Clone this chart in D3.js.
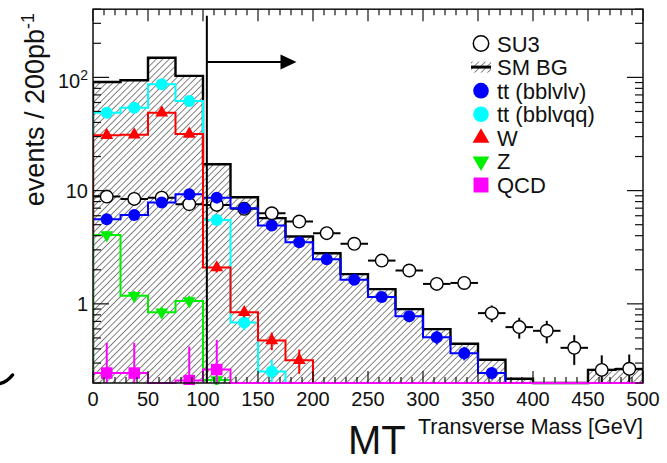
<!DOCTYPE html>
<html>
<head>
<meta charset="utf-8">
<script src="https://cdn.jsdelivr.net/npm/d3@7/dist/d3.min.js"></script>
<style>
  html, body { margin: 0; padding: 0; background: #fff; }
  svg { display: block; font-family: "Liberation Sans", Arial, Helvetica, sans-serif; }
</style>
</head>
<body>
<svg id="chart" width="667" height="463"></svg>
<script>
// MT histogram bins: lower edges in GeV, 25 GeV wide
const binLow = [0, 25, 50, 75, 100, 125, 150, 175, 200, 225, 250, 275, 300, 325, 350, 375, 400, 425, 450, 475];
const binWidth = 25;

// Total Standard Model background (hatched)
const smBG = [91, 94.3, 149, 103, 17.1, 8.74, 5.71, 3.93, 2.80, 1.83, 1.35, 0.898, 0.598, 0.444, 0.321, 0.218, 0, 0, 0.261, 0.265];

// SUSY benchmark SU3 (open circles)
const su3    = [8.85, 8.45, 8.67, 7.59, 7.48, 6.9, 6.31, 5.33, 4.21, 3.39, 2.41, 1.97, 1.50, 1.53, 0.828, 0.623, 0.578, 0.409, 0.261, 0.267];
const su3Err = [0.40, 0.40, 0.40, 0.38, 0.38, 0.36, 0.34, 0.30, 0.27, 0.24, 0.20, 0.18, 0.15, 0.15, 0.14, 0.13, 0.13, 0.12, 0.09, 0.09];

// Background components
const ttDilep    = [5.59, 6.1, 7.84, 9.3, 8.67, 7.0, 4.91, 3.5, 2.48, 1.63, 1.15, 0.778, 0.508, 0.367, 0.245, 0, 0, 0, 0, 0];
const ttDilepErr = [0.3, 0.3, 0.35, 0.4, 0.4, 0.35, 0.3, 0.25, 0.2, 0.15, 0.12, 0.09, 0.07, 0.05, 0.03, 0, 0, 0, 0, 0];
const ttSemi     = [48.8, 54, 86.9, 61.9, 5.51, 0.684, 0.253, 0, 0, 0, 0, 0, 0, 0, 0, 0, 0, 0, 0, 0];
const ttSemiErr  = [1.5, 1.6, 2.0, 1.7, 0.4, 0.1, 0.068, 0, 0, 0, 0, 0, 0, 0, 0, 0, 0, 0, 0, 0];
const wJets      = [30.8, 31.2, 48.8, 31.6, 2.09, 0.841, 0.474, 0.318, 0, 0, 0, 0, 0, 0, 0, 0, 0, 0, 0, 0];
const wJetsErr   = [1.2, 1.2, 1.5, 1.2, 0.2, 0.08, 0.084, 0.077, 0, 0, 0, 0, 0, 0, 0, 0, 0, 0, 0, 0];
const zJets      = [4.06, 1.18, 0.845, 1.06, 0.213, 0, 0, 0, 0, 0, 0, 0, 0, 0, 0, 0, 0, 0, 0, 0];
const zJetsErr   = [0.35, 0.12, 0.1, 0.12, 0.03, 0, 0, 0, 0, 0, 0, 0, 0, 0, 0, 0, 0, 0, 0, 0];
const qcd        = [0.245, 0.245, 0, 0.21, 0.263, 0, 0, 0, 0, 0, 0, 0, 0, 0, 0, 0, 0, 0, 0, 0];
const qcdErr     = [0.208, 0.208, 0, 0.21, 0.218, 0, 0, 0, 0, 0, 0, 0, 0, 0, 0, 0, 0, 0, 0, 0];

// Axis ticks and labels
const xMajorTicks = [0, 50, 100, 150, 200, 250, 300, 350, 400, 450, 500];
const yMajorTicks = [1, 10, 100];
const yTickBase = ["1", "10", "10"];
const yTickSup  = ["", "", "2"];

// Selection cut on MT and direction of the signal region
const cutMT = 103.5;
const cutTop = 350;
const arrowLevel = 137;
const arrowEnd = 185;

// Legend entries
const legendLabels = ["SU3", "SM BG", "tt (bblvlv)", "tt (bblvqq)", "W", "Z", "QCD"];

const svg = d3.select("#chart");
const plot = { left: 93, right: 643, top: 9.2, bottom: 383 };

const x = d3.scaleLinear().domain([0, 500]).range([plot.left, plot.right]);
const y = d3.scaleLog().domain([0.2, 400]).range([plot.bottom, plot.top]);
const yc = v => (v > 0 ? Math.min(y(v), plot.bottom) : plot.bottom);

// hatch pattern for the SM background
const defs = svg.append("defs");
const pat = defs.append("pattern")
  .attr("id", "hatch")
  .attr("patternUnits", "userSpaceOnUse")
  .attr("width", 4.6).attr("height", 10)
  .attr("patternTransform", "rotate(45)");
pat.append("line")
  .attr("x1", 0).attr("y1", 0).attr("x2", 0).attr("y2", 10)
  .attr("stroke", "#1e1e1e").attr("stroke-width", 1.1);

defs.append("clipPath").attr("id", "plotClip")
  .append("rect")
  .attr("x", plot.left).attr("y", plot.top)
  .attr("width", plot.right - plot.left)
  .attr("height", plot.bottom - plot.top + 2);

// step outline of a histogram
function stepPoints(values) {
  const pts = [[x(binLow[0]), plot.bottom]];
  values.forEach((v, i) => {
    pts.push([x(binLow[i]), yc(v)]);
    pts.push([x(binLow[i] + binWidth), yc(v)]);
  });
  pts.push([x(binLow[binLow.length - 1] + binWidth), plot.bottom]);
  return pts;
}
const line = d3.line();

const g = svg.append("g").attr("clip-path", "url(#plotClip)");

// SM background: hatched fill + black outline
g.append("path")
  .attr("d", line(stepPoints(smBG)) + "Z")
  .attr("fill", "url(#hatch)").attr("stroke", "none");
g.append("path")
  .attr("d", line(stepPoints(smBG)))
  .attr("fill", "none").attr("stroke", "#000").attr("stroke-width", 2.4);

// SU3 points with error bars
const su3G = g.append("g");
su3.forEach((v, i) => {
  if (!(v > 0)) return;
  const cx = x(binLow[i] + binWidth / 2);
  su3G.append("line")
    .attr("x1", x(binLow[i])).attr("x2", x(binLow[i] + binWidth))
    .attr("y1", y(v)).attr("y2", y(v))
    .attr("stroke", "#000").attr("stroke-width", 2);
  su3G.append("line")
    .attr("x1", cx).attr("x2", cx)
    .attr("y1", yc(v - su3Err[i])).attr("y2", y(v + su3Err[i]))
    .attr("stroke", "#000").attr("stroke-width", 2);
});
su3.forEach((v, i) => {
  if (!(v > 0)) return;
  su3G.append("circle")
    .attr("cx", x(binLow[i] + binWidth / 2)).attr("cy", y(v)).attr("r", 6.3)
    .attr("fill", "#fff").attr("stroke", "#000").attr("stroke-width", 1.4);
});

// background components
const components = [
  { vals: ttDilep, errs: ttDilepErr, color: "#0000ff", sym: "circle" },
  { vals: ttSemi,  errs: ttSemiErr,  color: "#00ffff", sym: "circle" },
  { vals: wJets,   errs: wJetsErr,   color: "#ff0000", sym: "tri" },
  { vals: zJets,   errs: zJetsErr,   color: "#00ee00", sym: "triDown" },
  { vals: qcd,     errs: qcdErr,     color: "#ff00ff", sym: "square" }
];

function drawMarker(sel, sym, cx, cy, color, scale) {
  const s = scale || 1;
  if (sym === "circle") {
    sel.append("circle").attr("cx", cx).attr("cy", cy).attr("r", 6 * s).attr("fill", color);
  } else if (sym === "tri" || sym === "triDown") {
    const path = d3.symbol().type(d3.symbolTriangle).size(72 * s * s)();
    sel.append("path").attr("d", path)
      .attr("transform", `translate(${cx},${cy})` + (sym === "triDown" ? " rotate(180)" : ""))
      .attr("fill", color);
  } else if (sym === "square") {
    const a = 11.5 * s;
    sel.append("rect").attr("x", cx - a / 2).attr("y", cy - a / 2)
      .attr("width", a).attr("height", a).attr("fill", color);
  }
}

components.forEach(c => {
  const cg = g.append("g");
  cg.append("path")
    .attr("d", line(stepPoints(c.vals)))
    .attr("fill", "none").attr("stroke", c.color).attr("stroke-width", 2);
  c.vals.forEach((v, i) => {
    if (!(v > 0)) return;
    const cx = x(binLow[i] + binWidth / 2);
    cg.append("line")
      .attr("x1", cx).attr("x2", cx)
      .attr("y1", yc(v - c.errs[i])).attr("y2", y(v + c.errs[i]))
      .attr("stroke", c.color).attr("stroke-width", 2);
    drawMarker(cg, c.sym, cx, y(v), c.color);
  });
});

// frame
svg.append("rect")
  .attr("x", plot.left).attr("y", plot.top)
  .attr("width", plot.right - plot.left).attr("height", plot.bottom - plot.top)
  .attr("fill", "none").attr("stroke", "#111").attr("stroke-width", 1.5);

// QCD baseline stays visible over the bottom of the frame
svg.append("line")
  .attr("x1", x(binLow[4] + binWidth)).attr("x2", x(500))
  .attr("y1", plot.bottom).attr("y2", plot.bottom)
  .attr("stroke", "#ff00ff").attr("stroke-width", 2);

// x axis ticks (bottom and top)
const axes = svg.append("g").attr("stroke", "#111").attr("stroke-width", 1.2);
const xMinor = d3.range(0, 501, 10);
xMinor.forEach(t => {
  const len = xMajorTicks.includes(t) ? 12 : 6;
  axes.append("line").attr("x1", x(t)).attr("x2", x(t))
    .attr("y1", plot.bottom).attr("y2", plot.bottom - len);
  axes.append("line").attr("x1", x(t)).attr("x2", x(t))
    .attr("y1", plot.top).attr("y2", plot.top + len);
});

// y axis ticks (left and right)
const yMinor = [];
[0.1, 1, 10, 100].forEach(dec => {
  for (let k = 1; k <= 9; k++) {
    const v = dec * k;
    if (v >= 0.2 && v <= 400) yMinor.push(v);
  }
});
yMinor.forEach(v => {
  const major = yMajorTicks.some(m => Math.abs(m - v) < 1e-9);
  const len = major ? 16 : 8;
  axes.append("line").attr("x1", plot.left).attr("x2", plot.left + len)
    .attr("y1", y(v)).attr("y2", y(v));
  axes.append("line").attr("x1", plot.right).attr("x2", plot.right - len)
    .attr("y1", y(v)).attr("y2", y(v));
});

// tick labels
svg.append("g").selectAll("text").data(xMajorTicks).join("text")
  .attr("x", d => x(d)).attr("y", 406)
  .attr("text-anchor", "middle").attr("font-size", 20).attr("fill", "#111")
  .text(d => d);

yMajorTicks.forEach((v, i) => {
  const t = svg.append("text")
    .attr("x", 88).attr("y", y(v) + (yTickSup[i] ? 10.5 : 7.5))
    .attr("text-anchor", "end").attr("font-size", 20).attr("fill", "#111");
  t.append("tspan").text(yTickBase[i]);
  if (yTickSup[i]) {
    t.append("tspan").attr("dy", -8).attr("font-size", 14).text(yTickSup[i]);
  }
});

// axis titles
const yTitle = svg.append("text")
  .attr("transform", "translate(44,13) rotate(-90)")
  .attr("text-anchor", "end").attr("font-size", 27).attr("fill", "#111");
yTitle.append("tspan").text("events / 200pb");
yTitle.append("tspan").attr("dy", -10).attr("font-size", 18).text("-1");

svg.append("text")
  .attr("x", 348).attr("y", 454)
  .attr("font-size", 40).attr("fill", "#111")
  .text("MT");
svg.append("text")
  .attr("x", 418).attr("y", 433.5)
  .attr("font-size", 21.5).attr("fill", "#111")
  .text("Transverse Mass [GeV]");

// MT cut line and arrow
svg.append("line")
  .attr("x1", x(cutMT)).attr("x2", x(cutMT))
  .attr("y1", y(cutTop)).attr("y2", plot.bottom)
  .attr("stroke", "#000").attr("stroke-width", 2);
const ay = y(arrowLevel);
svg.append("line")
  .attr("x1", x(cutMT)).attr("x2", x(arrowEnd) - 12)
  .attr("y1", ay).attr("y2", ay)
  .attr("stroke", "#000").attr("stroke-width", 2);
svg.append("path")
  .attr("d", `M${x(arrowEnd)},${ay} L${x(arrowEnd) - 16},${ay - 7.5} L${x(arrowEnd) - 16},${ay + 7.5} Z`)
  .attr("fill", "#000");

// legend
const legY = d3.scaleLinear().domain([0, legendLabels.length - 1]).range([43.5, 185]);
const legX = 481, legTextX = 497;
const leg = svg.append("g");
legendLabels.forEach((lab, i) => {
  const cy = legY(i);
  if (i === 0) {
    leg.append("circle").attr("cx", legX).attr("cy", cy).attr("r", 7.7)
      .attr("fill", "#fff").attr("stroke", "#000").attr("stroke-width", 1.5);
  } else if (i === 1) {
    leg.append("rect").attr("x", legX - 10).attr("y", cy - 5.5).attr("width", 20).attr("height", 11)
      .attr("fill", "url(#hatch)");
    leg.append("line").attr("x1", legX - 10).attr("x2", legX + 10).attr("y1", cy).attr("y2", cy)
      .attr("stroke", "#000").attr("stroke-width", 3);
  } else {
    const c = components[i - 2];
    drawMarker(leg, c.sym, legX, cy, c.color, 1.3);
  }
  leg.append("text").attr("x", legTextX).attr("y", cy + 8)
    .attr("font-size", 22).attr("fill", "#111").text(lab);
});

// fragment of a stroke at the lower-left edge
svg.append("path")
  .attr("d", "M0,383.5 Q7,382 12.5,375")
  .attr("fill", "none").attr("stroke", "#000").attr("stroke-width", 3.5)
  .attr("stroke-linecap", "round");
</script>
</body>
</html>
